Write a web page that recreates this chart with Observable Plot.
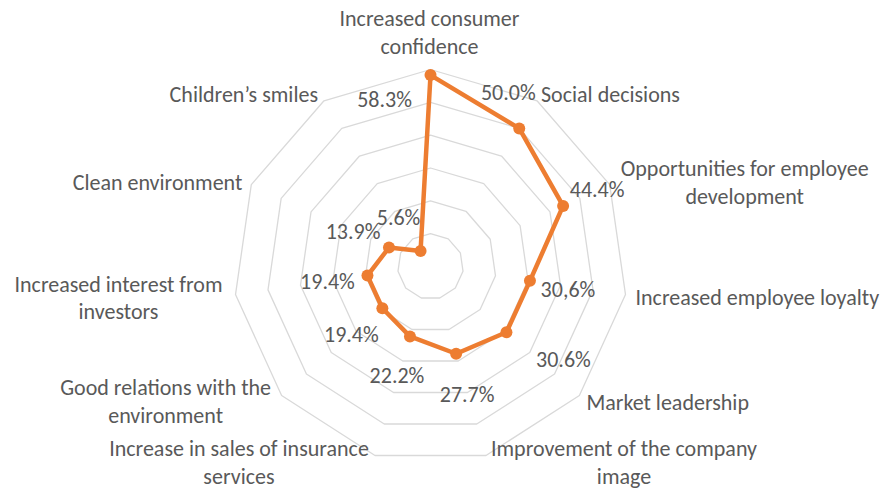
<!DOCTYPE html>
<html>
<head>
<meta charset="utf-8">
<script src="https://cdn.jsdelivr.net/npm/d3@7"></script>
<script src="https://cdn.jsdelivr.net/npm/@observablehq/plot@0.6"></script>
<style>
  html, body { margin: 0; padding: 0; background: #ffffff; }
  #chart svg { display: block; }
</style>
</head>
<body>
<div id="chart"></div>
<script>
// ---- data ----
const categories = [
  "Increased consumer\nconfidence",
  "Social decisions",
  "Opportunities for employee\ndevelopment",
  "Increased employee loyalty",
  "Market leadership",
  "Improvement of the company\nimage",
  "Increase in sales of insurance\nservices",
  "Good relations with the\nenvironment",
  "Increased interest from\ninvestors",
  "Clean environment",
  "Children\u2019s smiles"
];
const values = [58.3, 50.0, 44.4, 30.6, 30.6, 27.7, 22.2, 19.4, 19.4, 13.9, 5.6];
const valueLabels = ["58.3%", "50.0%", "44.4%", "30,6%", "30.6%", "27.7%", "22.2%", "19.4%", "19.4%", "13.9%", "5.6%"];
const ringLevels = [10, 20, 30, 40, 50, 60];

// ---- layout (pixels) ----
const W = 884, H = 490;
const cx = 430, cy = 266, outerPx = 197, maxVal = 60;
const k = outerPx / maxVal;
const catAnchor = ["middle", "start", "middle", "start", "start", "middle", "middle", "middle", "middle", "end", "end"];
const catOffset = [[-1, -38], [4, -8], [135, -4], [10, 1], [7, 6], [138, 6], [-136, 6], [-116, 5], [-117, 2], [-9, -4], [-6, -8]];
const valOffset = [[-46, 25], [-11, -35], [34, -16], [38, 9], [57, 28], [11, 41], [-13, 40], [-31, 27], [-40, 6], [-36, -16], [-22, -33]];

const n = categories.length;
const angle = i => (i * 2 * Math.PI) / n;
const px = (r, i) => r * Math.sin(angle(i));
const py = (r, i) => r * Math.cos(angle(i));

const grid = ringLevels.flatMap(level => categories.map((c, i) => ({level, x: px(level, i), y: py(level, i)})));
const pts = values.map((v, i) => ({
  v, i, x: px(v, i), y: py(v, i),
  lx: px(v, i) + valOffset[i][0] / k,
  ly: py(v, i) - valOffset[i][1] / k,
  label: valueLabels[i]
}));
const cats = categories.map((c, i) => ({
  c, i, anchor: catAnchor[i],
  x: px(maxVal, i) + catOffset[i][0] / k,
  y: py(maxVal, i) - catOffset[i][1] / k
}));

const font = "Calibri, Carlito, Lato, sans-serif";
const textColor = "#595959";
const fs = 22;

const catMark = anchor => Plot.text(cats.filter(d => d.anchor === anchor), {
  x: "x", y: "y", text: "c", textAnchor: anchor, fill: textColor,
  fontSize: fs, fontFamily: font, fontWeight: 300, lineHeight: 28 / fs
});

const chart = Plot.plot({
  width: W, height: H, margin: 0,
  style: {fontFamily: font, background: "#ffffff"},
  x: {domain: [-cx / k, (W - cx) / k], axis: null},
  y: {domain: [-(H - cy) / k, cy / k], axis: null},
  marks: [
    Plot.line(grid, {x: "x", y: "y", z: "level", curve: "linear-closed", stroke: "#d9d9d9", strokeWidth: 1.3}),
    Plot.line(pts, {x: "x", y: "y", curve: "linear-closed", stroke: "#ed7d31", strokeWidth: 4.5, strokeLinejoin: "round"}),
    Plot.dot(pts, {x: "x", y: "y", r: 6, fill: "#ed7d31", stroke: "none"}),
    Plot.text(pts, {x: "lx", y: "ly", text: "label", fill: textColor, fontSize: fs, fontFamily: font, fontWeight: 300}),
    catMark("start"), catMark("middle"), catMark("end")
  ]
});
document.getElementById("chart").appendChild(chart);
</script>
</body>
</html>
